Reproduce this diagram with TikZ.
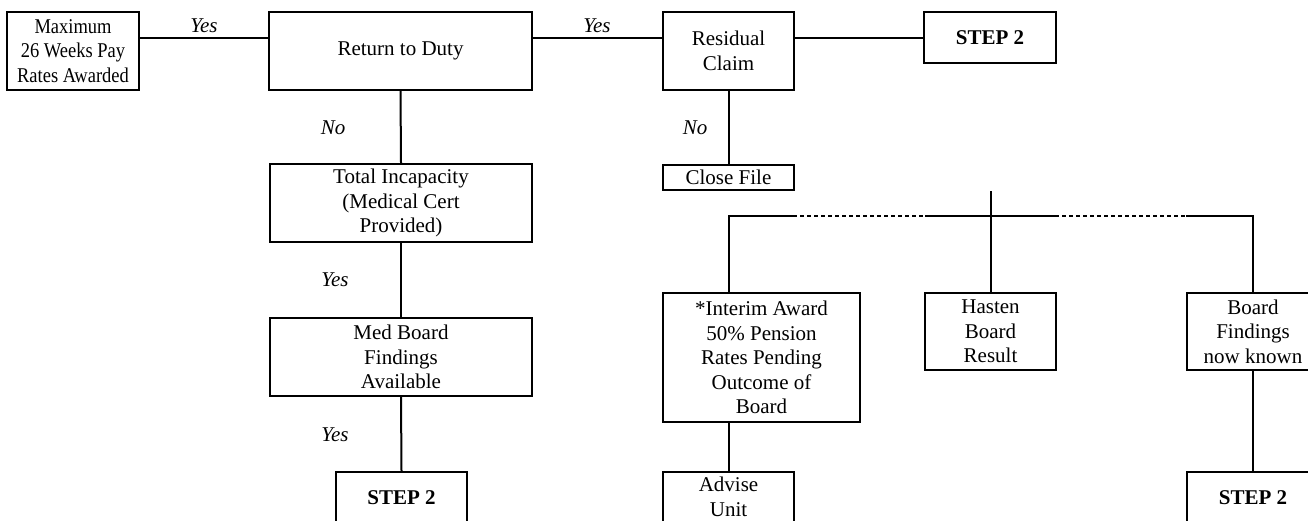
\documentclass[tikz,border=0pt]{standalone}
\usepackage{fontspec}
\setmainfont{Liberation Serif}
\newfontfamily\condfont{Liberation Serif}[FakeStretch=0.88]
\begin{document}
\begin{tikzpicture}[x=1pt,y=-1pt,
  txt/.style={font=\fontsize{21}{24.4}\selectfont},
  box/.style={txt,draw,line width=2pt,align=center,inner sep=0pt},
  lbl/.style={font=\fontsize{21}{24.4}\selectfont\itshape,inner sep=0pt},
  link/.style={line width=2pt},
  dots/.style={line width=2pt,dash pattern=on 4pt off 3pt}]
\useasboundingbox (0,0) rectangle (1308,520);
\clip (0,0) rectangle (1308,520);
% top row
\node[box,minimum width=132pt,minimum height=78pt,font={\condfont\fontsize{21}{24.4}\selectfont}] (max) at (73,51) {Maximum\\26 Weeks Pay\\Rates Awarded};
\node[box,minimum width=263pt,minimum height=78pt] (rtd) at (400.5,51) {Return to Duty};
\node[box,minimum width=131pt,minimum height=78pt] (res) at (728.5,51) {Residual\\Claim};
\node[box,minimum width=132pt,minimum height=51pt,font={\bfseries\fontsize{21}{24.4}\selectfont}] (stepa) at (990,37.5) {STEP 2};
\node[box,minimum width=131pt,minimum height=25pt] (close) at (728.5,177.5) {Close File};
% left column
\node[box,minimum width=262pt,minimum height=78pt] (total) at (401,203) {Total Incapacity\\(Medical Cert\\Provided)};
\node[box,minimum width=262pt,minimum height=78pt] (med) at (401,357) {Med Board\\Findings\\Available};
\node[box,minimum width=131pt,minimum height=51pt,font={\bfseries\fontsize{21}{24.4}\selectfont}] (stepb) at (401.5,497.5) {STEP 2};
% right part
\node[box,minimum width=197pt,minimum height=129pt] (interim) at (761.5,357.5) {*Interim Award\\50\% Pension\\Rates Pending\\Outcome of\\Board};
\node[box,minimum width=131pt,minimum height=50pt] (advise) at (728.5,497) {Advise\\Unit};
\node[box,minimum width=131pt,minimum height=77pt] (hasten) at (990.5,331.5) {Hasten\\Board\\Result};
\node[box,minimum width=132pt,minimum height=77pt] (board) at (1253,331.5) {Board\\Findings\\now known};
\node[box,minimum width=132pt,minimum height=51pt,font={\bfseries\fontsize{21}{24.4}\selectfont}] (stepc) at (1253,497.5) {STEP 2};
% labels
\node[lbl] (yes1) at (204,26) {Yes};
\node[lbl] (yes2) at (597,26) {Yes};
\node[lbl] (no1) at (333,128) {No};
\node[lbl] (no2) at (695,128) {No};
\node[lbl] (yes3) at (335,280) {Yes};
\node[lbl] (yes4) at (335,435) {Yes};
% connectors
\draw[link] (max.east |- stepa.west) -- (rtd.west |- stepa.west);
\draw[link] (rtd.east |- stepa.west) -- (res.west |- stepa.west);
\draw[link] (res.east |- stepa.west) -- (stepa.west);
\draw[link] (res.south) -- (close.north);
\draw[link] (rtd.south) -- (total.north);
\draw[link] (total.south) -- (med.north);
\draw[link] (med.south) -- (stepb.north);
\coordinate (hb) at (0,216);
\coordinate (d1) at (793,216);
\coordinate (d2) at (925,216);
\coordinate (d3) at (1055,216);
\coordinate (d4) at (1186,216);
\draw[link] (advise.north |- interim.north) -- (advise.north |- hb) -- (d1);
\draw[dots] (d1) -- (d2);
\draw[link] (d2) -- (d3);
\draw[dots] (d3) -- (d4);
\draw[link] (d4) -- (board.north |- hb) -- (board.north);
\draw[link] (hasten.north |- close.south) -- (hasten.north);
\draw[link] (advise.north |- interim.south) -- (advise.north);
\draw[link] (board.south) -- (stepc.north);
\end{tikzpicture}
\end{document}
